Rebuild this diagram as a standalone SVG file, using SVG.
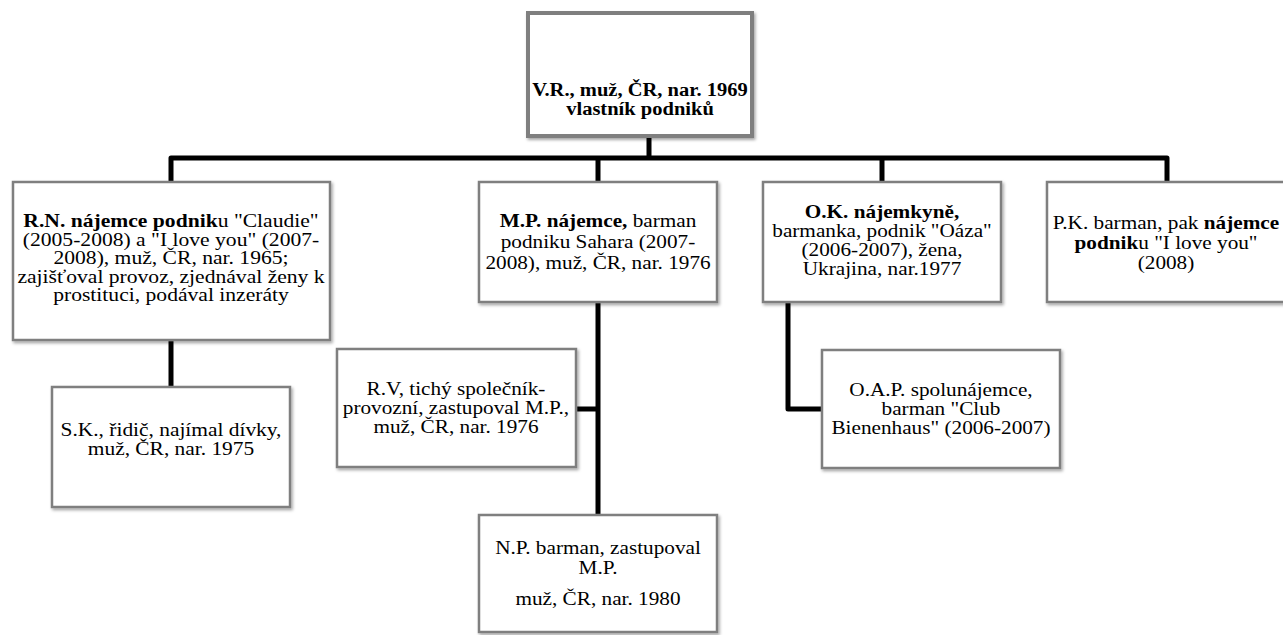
<svg xmlns="http://www.w3.org/2000/svg" width="1283" height="635" viewBox="0 0 1283 635">
<style>
.box{fill:#ffffff;stroke:#7f7f7f;stroke-width:2.5;filter:url(#sh)}
.topbox{fill:#ffffff;stroke:#7f7f7f;stroke-width:4;filter:url(#sh)}
.t{font-family:"Liberation Serif","Times New Roman",serif;font-size:18px;fill:#000;text-anchor:middle}
.tb{font-family:"Liberation Serif","Times New Roman",serif;font-size:19px;font-weight:bold;fill:#000;text-anchor:middle}
.b{font-weight:bold}
.conn{fill:none;stroke:#000;stroke-width:5;stroke-linejoin:round}
</style>
<defs>
<filter id="sh" x="-5%" y="-5%" width="112%" height="115%">
<feDropShadow dx="1.5" dy="2" stdDeviation="1.5" flood-color="#000" flood-opacity="0.35"/>
</filter>
</defs>
<rect width="1283" height="635" fill="#ffffff"/>
<g id="connectors">
<path class="conn" d="M649 136 V158"/>
<path class="conn" d="M171 182 V158 H1167 V182"/>
<path class="conn" d="M598 158 V182"/>
<path class="conn" d="M882 158 V182"/>
<path class="conn" d="M171 340 V387"/>
<path class="conn" d="M598 302 V515"/>
<path class="conn" d="M576 409 H598"/>
<path class="conn" d="M788 302 V409 H822"/>
</g>
<g id="node-vr">
<rect class="topbox" x="528" y="13" width="224" height="123"/>
<g transform="translate(640 0) scale(1.08 1)">
<text class="tb" x="0" y="96">V.R., muž, ČR, nar. 1969</text>
<text class="tb" x="0" y="115">vlastník podniků</text>
</g>
</g>
<g id="node-rn">
<rect class="box" x="13" y="182" width="317" height="158"/>
<g transform="translate(171 0) scale(1.2 1)">
<text class="t" x="0" y="227"><tspan class="b">R.N. nájemce podnik</tspan>u "Claudie"</text>
<text class="t" x="0" y="246">(2005-2008) a "I love you" (2007-</text>
<text class="t" x="0" y="264">2008), muž, ČR, nar. 1965;</text>
<text class="t" x="0" y="283">zajišťoval provoz, zjednával ženy k</text>
<text class="t" x="0" y="301">prostituci, podával inzeráty</text>
</g>
</g>
<g id="node-mp">
<rect class="box" x="479" y="182" width="238" height="120"/>
<g transform="translate(598 0) scale(1.18 1)">
<text class="t" x="0" y="227"><tspan class="b">M.P. nájemce,</tspan> barman</text>
<text class="t" x="0" y="248">podniku Sahara (2007-</text>
<text class="t" x="0" y="269">2008), muž, ČR, nar. 1976</text>
</g>
</g>
<g id="node-ok">
<rect class="box" x="763" y="182" width="238" height="120"/>
<g transform="translate(882 0) scale(1.18 1)">
<text class="t" x="0" y="218"><tspan class="b">O.K. nájemkyně,</tspan></text>
<text class="t" x="0" y="237">barmanka, podnik "Oáza"</text>
<text class="t" x="0" y="256">(2006-2007), žena,</text>
<text class="t" x="0" y="275">Ukrajina, nar.1977</text>
</g>
</g>
<g id="node-pk">
<rect class="box" x="1047" y="182" width="240" height="120"/>
<g transform="translate(1166 0) scale(1.18 1)">
<text class="t" x="0" y="229">P.K. barman, pak <tspan class="b">nájemce</tspan></text>
<text class="t" x="0" y="249"><tspan class="b">podnik</tspan>u "I love you"</text>
<text class="t" x="0" y="269">(2008)</text>
</g>
</g>
<g id="node-sk">
<rect class="box" x="52" y="387" width="238" height="120"/>
<g transform="translate(171 0) scale(1.19 1)">
<text class="t" x="0" y="436">S.K., řidič, najímal dívky,</text>
<text class="t" x="0" y="455">muž, ČR, nar. 1975</text>
</g>
</g>
<g id="node-rv">
<rect class="box" x="337" y="349" width="239" height="118"/>
<g transform="translate(456 0) scale(1.18 1)">
<text class="t" x="0" y="395">R.V, tichý společník-</text>
<text class="t" x="0" y="414">provozní, zastupoval M.P.,</text>
<text class="t" x="0" y="433">muž, ČR, nar. 1976</text>
</g>
</g>
<g id="node-oap">
<rect class="box" x="822" y="350" width="238" height="118"/>
<g transform="translate(941 0) scale(1.18 1)">
<text class="t" x="0" y="396">O.A.P. spolunájemce,</text>
<text class="t" x="0" y="415">barman "Club</text>
<text class="t" x="0" y="434">Bienenhaus" (2006-2007)</text>
</g>
</g>
<g id="node-np">
<rect class="box" x="479" y="515" width="238" height="117"/>
<g transform="translate(598 0) scale(1.18 1)">
<text class="t" x="0" y="554">N.P. barman, zastupoval</text>
<text class="t" x="0" y="574">M.P.</text>
<text class="t" x="0" y="605">muž, ČR, nar. 1980</text>
</g>
</g>
</svg>
